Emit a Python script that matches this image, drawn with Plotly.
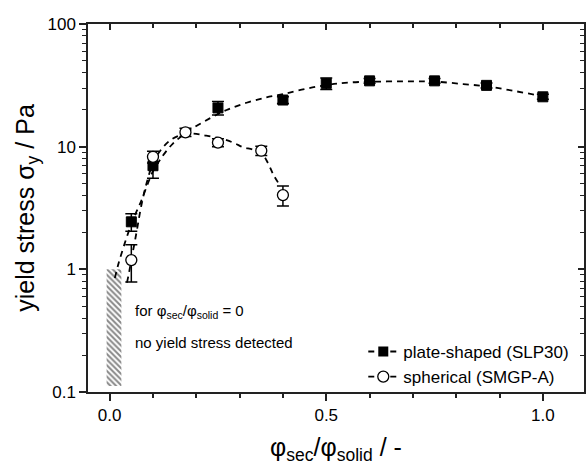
import plotly.graph_objects as go

# ---- data ----
plate_x = [0.05, 0.10, 0.25, 0.40, 0.50, 0.60, 0.75, 0.87, 1.00]
plate_y = [2.44, 6.99, 20.7, 24.0, 32.8, 34.4, 34.4, 31.6, 25.5]
plate_err = [0.4, 1.45, 2.6, 1.5, 3.5, 1.5, 1.5, 1.5, 1.2]

sph_x = [0.05, 0.10, 0.175, 0.25, 0.35, 0.40]
sph_y = [1.19, 8.27, 13.1, 10.8, 9.27, 4.03]
sph_err = [0.4, 0.9, 1.0, 0.8, 0.8, 0.75]

plate_fit_x = [0.012, 0.02, 0.031, 0.04, 0.05, 0.06, 0.069, 0.08, 0.09, 0.10, 0.116, 0.146,
               0.185, 0.231, 0.27, 0.316, 0.362, 0.40, 0.45, 0.50, 0.555, 0.64, 0.70, 0.75,
               0.816, 0.878, 0.94, 1.0]
plate_fit_y = [0.85, 1.1, 1.48, 1.85, 2.35, 2.85, 3.35, 4.2, 5.2, 6.3, 7.8, 10.6,
               13.6, 17.0, 19.9, 22.8, 25.2, 26.8, 29.5, 31.8, 33.4, 34.0, 34.1, 33.9,
               32.4, 30.8, 28.2, 25.8]

sph_fit_x = [0.04, 0.045, 0.05, 0.058, 0.065, 0.073, 0.085, 0.10, 0.12, 0.145, 0.175, 0.20,
             0.223, 0.25, 0.27, 0.29, 0.308, 0.33, 0.35, 0.365, 0.378, 0.392]
sph_fit_y = [0.78, 0.95, 1.2, 1.68, 2.3, 3.3, 5.0, 7.3, 9.6, 11.6, 12.7, 12.7,
             12.3, 11.8, 11.3, 10.6, 9.9, 9.5, 8.9, 7.4, 5.9, 4.9]

hatch_x = [-0.007, 0.027, 0.027, -0.007, -0.007]
hatch_y = [0.112, 0.112, 1.0, 1.0, 0.112]

y_ticks = [0.1, 1, 10, 100]
y_ticktext = ["0.1", "1", "10", "100"]
x_ticks = [0.0, 0.5, 1.0]
x_ticktext = ["0.0", "0.5", "1.0"]
y_minor = [m * 10 ** e for e in (-1, 0, 1) for m in range(2, 10)]

names = ["plate-shaped (SLP30)", "spherical (SMGP-A)"]

FONT = "Liberation Sans, Arial, sans-serif"
DASH = "6px,5px"

fig = go.Figure()

# hatched region
fig.add_trace(go.Scatter(x=hatch_x, y=hatch_y, mode="lines", fill="toself",
                         line=dict(width=0, color="rgba(0,0,0,0)"),
                         fillcolor="white",
                         fillpattern=dict(shape="\\", fgcolor="#111111", bgcolor="white",
                                          size=4, solidity=0.5),
                         showlegend=False, hoverinfo="skip"))

# fit curves
fig.add_trace(go.Scatter(x=plate_fit_x, y=plate_fit_y, mode="lines",
                         line=dict(color="black", width=1.8, dash=DASH, shape="spline"),
                         showlegend=False))
fig.add_trace(go.Scatter(x=sph_fit_x, y=sph_fit_y, mode="lines",
                         line=dict(color="black", width=1.8, dash=DASH, shape="spline"),
                         showlegend=False))

# data points
fig.add_trace(go.Scatter(x=plate_x, y=plate_y, mode="markers",
                         marker=dict(symbol="square", size=10, color="black",
                                     line=dict(color="black", width=1)),
                         error_y=dict(type="data", array=plate_err, color="black",
                                      thickness=1.5, width=6),
                         showlegend=False))
fig.add_trace(go.Scatter(x=sph_x, y=sph_y, mode="markers",
                         marker=dict(symbol="circle", size=11, color="white",
                                     line=dict(color="black", width=1.3)),
                         error_y=dict(type="data", array=sph_err, color="black",
                                      thickness=1.5, width=6),
                         showlegend=False))

# legend entries
fig.add_trace(go.Scatter(x=[None], y=[None], mode="lines+markers", name=names[0],
                         line=dict(color="black", width=1.8, dash=DASH),
                         marker=dict(symbol="square", size=10, color="black")))
fig.add_trace(go.Scatter(x=[None], y=[None], mode="lines+markers", name=names[1],
                         line=dict(color="black", width=1.8, dash=DASH),
                         marker=dict(symbol="circle", size=11, color="white",
                                     line=dict(color="black", width=1.3))))

# invisible trace for mirror axes
fig.add_trace(go.Scatter(x=[None], y=[None], xaxis="x2", yaxis="y2", showlegend=False))

axis_common = dict(showline=True, linecolor="#222222", linewidth=1.5, showgrid=False,
                   zeroline=False, tickcolor="#222222", tickwidth=1.5)

fig.update_layout(
    width=586, height=467,
    margin=dict(l=88, r=2, t=24, b=75),
    paper_bgcolor="white", plot_bgcolor="white",
    font=dict(family=FONT, color="black", size=17),
    xaxis=dict(range=[-0.05, 1.095], tickmode="array", tickvals=x_ticks, ticktext=x_ticktext,
               ticks="outside", ticklen=7,
               minor=dict(dtick=0.1, tick0=0, ticks="outside", ticklen=4,
                          tickcolor="#222222", tickwidth=1.5),
               tickfont=dict(size=17),
               title=dict(text="φ<sub>sec</sub>/φ<sub>solid</sub> / -",
                          font=dict(size=25), standoff=14),
               **axis_common),
    xaxis2=dict(range=[-0.05, 1.095], overlaying="x", side="top", anchor="y",
                tickmode="array", tickvals=x_ticks, showticklabels=False,
                ticks="inside", ticklen=6,
                minor=dict(dtick=0.1, tick0=0, ticks="inside", ticklen=4,
                           tickcolor="#222222", tickwidth=1.5),
                **axis_common),
    yaxis=dict(type="log", range=[-1, 2], tickmode="array", tickvals=y_ticks,
               ticktext=y_ticktext, ticks="outside", ticklen=7,
               minor=dict(tickmode="array", tickvals=y_minor, ticks="outside", ticklen=4,
                          tickcolor="#222222", tickwidth=1.2),
               tickfont=dict(size=17),
               title=dict(text="yield stress σ<sub>y</sub> / Pa", font=dict(size=25),
                          standoff=6),
               **axis_common),
    yaxis2=dict(type="log", range=[-1, 2], overlaying="y", side="right", anchor="x",
                tickmode="array", tickvals=y_ticks, showticklabels=False,
                ticks="inside", ticklen=6,
                minor=dict(tickmode="array", tickvals=y_minor, ticks="inside", ticklen=4,
                           tickcolor="#222222", tickwidth=1.2),
                **axis_common),
    legend=dict(x=0.555, y=-0.008, xanchor="left", yanchor="bottom",
                bgcolor="rgba(255,255,255,0)", font=dict(size=17),
                itemwidth=30, tracegroupgap=0),
    showlegend=True,
)

fig.add_annotation(x=0.053, y=-0.346, xref="x", yref="y", xanchor="left", yanchor="middle",
                   text="for φ<sub>sec</sub>/φ<sub>solid</sub> = 0", showarrow=False,
                   font=dict(size=15, family=FONT, color="black"))
fig.add_annotation(x=0.053, y=-0.598, xref="x", yref="y", xanchor="left", yanchor="middle",
                   text="no yield stress detected", showarrow=False,
                   font=dict(size=15, family=FONT, color="black"))

fig.write_html("out.html")
